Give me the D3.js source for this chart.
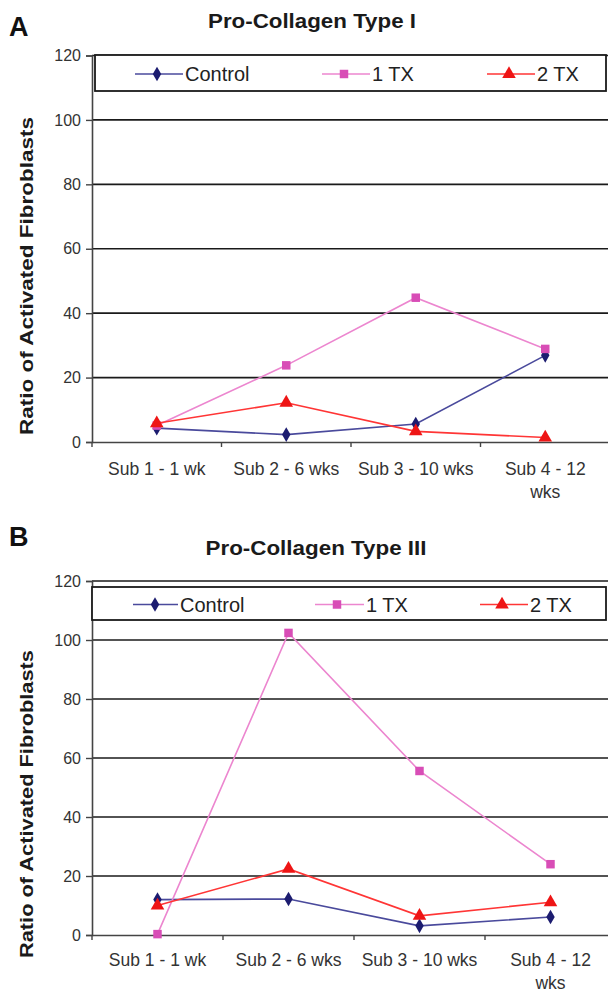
<!DOCTYPE html>
<html>
<head>
<meta charset="utf-8">
<script src="https://cdn.jsdelivr.net/npm/d3@7"></script>
<style>
  body { margin: 0; background: #fff; }
  svg { display: block; }
</style>
</head>
<body>
<script>
const width = 608;
const height = 992;

const categories = ["Sub 1 - 1 wk", "Sub 2 - 6 wks", "Sub 3 - 10 wks", "Sub 4 - 12 wks"];
const categoryLines = [["Sub 1 - 1 wk"], ["Sub 2 - 6 wks"], ["Sub 3 - 10 wks"], ["Sub 4 - 12", "wks"]];
const yTicks = [0, 20, 40, 60, 80, 100, 120];
const seriesNames = ["Control", "1 TX", "2 TX"];

// panel A - Pro-Collagen Type I
const controlA = [4.3, 2.3, 5.6, 26.9];
const oneTxA = [5.1, 23.8, 44.8, 28.9];
const twoTxA = [5.8, 12.2, 3.3, 1.4];

// panel B - Pro-Collagen Type III
const controlB = [12, 12.2, 3.1, 6.1];
const oneTxB = [0.3, 102.4, 55.6, 24];
const twoTxB = [10, 22.4, 6.5, 11.1];

const lineColors = ["#4a4a9c", "#ec86cf", "#ff3535"];
const markColors = ["#1c1c70", "#d84db6", "#ee1515"];
const markTypes = [d3.symbolDiamond, d3.symbolSquare, d3.symbolTriangle];
const markSizes = [62, 72, 80];

const svg = d3.select("body").append("svg")
    .attr("width", width).attr("height", height);

const font = "'Liberation Sans', Arial, sans-serif";

function drawPanel(opt) {
    const g = svg.append("g");
    const x = d3.scaleBand().domain(categories)
        .range([opt.left, opt.left + 4 * opt.band]).padding(0);
    const y = d3.scaleLinear().domain([0, 120]).range([opt.bottom, opt.top]);
    const cx = c => x(c) + x.bandwidth() / 2;

    // panel letter + title
    g.append("text").attr("x", 9).attr("y", opt.letterY)
        .style("font", "bold 27px " + font).attr("fill", "#111")
        .text(opt.letter);
    g.append("text").attr("x", opt.titleX).attr("y", opt.titleY)
        .attr("text-anchor", "middle")
        .attr("textLength", opt.titleW).attr("lengthAdjust", "spacingAndGlyphs")
        .style("font", "bold 20px " + font).attr("fill", "#1a1a1a")
        .text(opt.title);

    // gridlines
    g.append("g").selectAll("line").data(yTicks.filter(d => d > 0)).enter().append("line")
        .attr("x1", opt.left).attr("x2", width)
        .attr("y1", d => y(d)).attr("y2", d => y(d))
        .attr("stroke", "#1a1a1a").attr("stroke-width", 1.6);

    // y axis
    const yAxis = d3.axisLeft(y).tickValues(yTicks).tickSize(6).tickPadding(5);
    const ya = g.append("g").attr("transform", "translate(" + opt.left + ",0)").call(yAxis);
    ya.select(".domain").attr("stroke", "#444").attr("stroke-width", 1.6);
    ya.selectAll(".tick line").attr("stroke", "#444").attr("stroke-width", 1.4);
    ya.selectAll("text").style("font", "16px " + font).attr("fill", "#333");

    // x axis
    const xAxis = d3.axisBottom(x).tickSize(0).tickSizeOuter(0).tickFormat("");
    const xa = g.append("g").attr("transform", "translate(0," + opt.bottom + ")").call(xAxis);
    xa.select(".domain").attr("stroke", "#444").attr("stroke-width", 1.6);
    xa.selectAll(".tick").remove();
    xa.selectAll("line.b").data(categories).enter().append("line")
        .attr("x1", d => x(d)).attr("x2", d => x(d)).attr("y1", 0).attr("y2", 5)
        .attr("stroke", "#444").attr("stroke-width", 1.4);
    const labels = xa.selectAll("text.cat").data(categories).enter().append("text")
        .attr("x", d => cx(d)).attr("y", opt.labelDy).attr("text-anchor", "middle")
        .style("font", "17.5px " + font).attr("fill", "#333");
    labels.each(function(d, i) {
        d3.select(this).selectAll("tspan").data(categoryLines[i]).enter().append("tspan")
            .attr("x", cx(d)).attr("dy", (t, j) => j === 0 ? 0 : 23).text(t => t);
    });

    // y title
    g.append("text")
        .attr("transform", "translate(33," + opt.yTitleC + ") rotate(-90)")
        .attr("text-anchor", "middle")
        .attr("textLength", opt.yTitleW).attr("lengthAdjust", "spacingAndGlyphs")
        .style("font", "bold 19px " + font).attr("fill", "#1a1a1a")
        .text("Ratio of Activated Fibroblasts");

    // lines and markers
    const line = d3.line().x((d, i) => cx(categories[i])).y(d => y(d));
    opt.series.forEach((vals, k) => {
        g.append("path").datum(vals).attr("d", line)
            .attr("fill", "none").attr("stroke", lineColors[k]).attr("stroke-width", 1.6);
        g.selectAll("path.m" + k).data(vals).enter().append("path")
            .attr("transform", (d, i) => "translate(" + cx(categories[i]) + "," + y(d) + ")")
            .attr("d", d3.symbol().type(markTypes[k]).size(markSizes[k]))
            .attr("fill", markColors[k]);
    });

    // legend
    const lg = g.append("g");
    lg.append("rect").attr("x", opt.legendX).attr("y", opt.legendY)
        .attr("width", 606 - opt.legendX).attr("height", opt.legendH)
        .attr("fill", "#fff").attr("stroke", "#1a1a1a").attr("stroke-width", 1.8);
    const ly = opt.legendY + opt.legendH / 2 + 1;
    seriesNames.forEach((name, k) => {
        const mx = opt.legendMark[k];
        lg.append("line").attr("x1", mx - 22).attr("x2", opt.legendText[k] - 2)
            .attr("y1", ly).attr("y2", ly)
            .attr("stroke", lineColors[k]).attr("stroke-width", 1.6);
        lg.append("path").attr("transform", "translate(" + mx + "," + ly + ")")
            .attr("d", d3.symbol().type(markTypes[k]).size(markSizes[k]))
            .attr("fill", markColors[k]);
        lg.append("text").attr("x", opt.legendText[k]).attr("y", ly + 7)
            .style("font", "20px " + font).attr("fill", "#222")
            .text(name);
    });
}

drawPanel({
    letter: "A", letterY: 36, title: "Pro-Collagen Type I", titleX: 312, titleY: 28, titleW: 208,
    left: 92, band: 129.5, top: 55.5, bottom: 442, labelDy: 33,
    yTitleC: 276, yTitleW: 318,
    legendX: 95, legendY: 55, legendH: 36,
    legendMark: [157, 344, 509], legendText: [185, 372, 537],
    series: [controlA, oneTxA, twoTxA]
});

drawPanel({
    letter: "B", letterY: 546, title: "Pro-Collagen Type III", titleX: 316, titleY: 555, titleW: 221,
    left: 92, band: 131, top: 581, bottom: 935, labelDy: 31,
    yTitleC: 804, yTitleW: 308,
    legendX: 92, legendY: 587, legendH: 33,
    legendMark: [155, 337, 502], legendText: [180, 366, 530],
    series: [controlB, oneTxB, twoTxB]
});
</script>
</body>
</html>
